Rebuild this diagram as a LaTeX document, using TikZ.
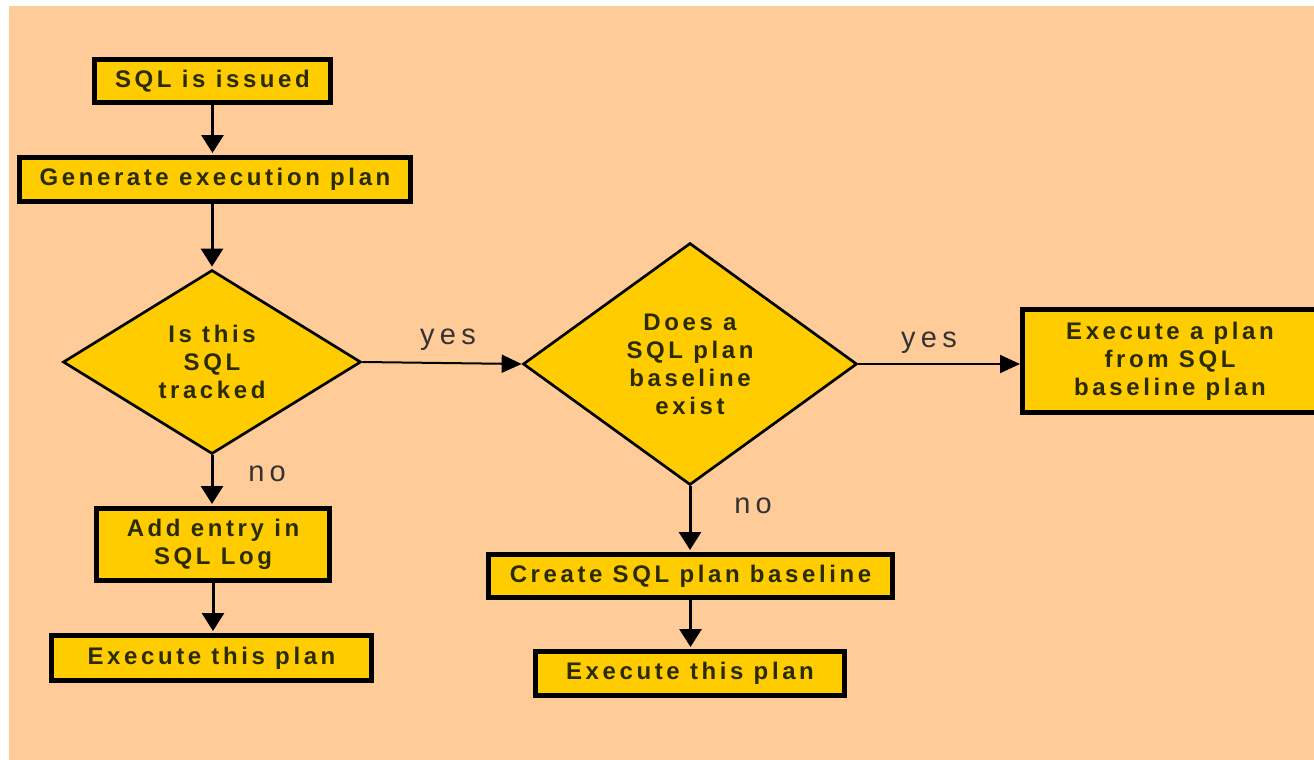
\documentclass[tikz,border=0pt]{standalone}
\usepackage{fontspec}
\newfontfamily\boxfont[LetterSpace=15]{Liberation Sans}
\newfontfamily\lblfont[LetterSpace=18]{Liberation Sans}
\usetikzlibrary{shapes.geometric,arrows.meta}
\definecolor{bg}{HTML}{FFCC99}
\definecolor{boxfill}{HTML}{FFCC00}
\definecolor{boxtext}{HTML}{2B2B00}
\definecolor{lblcol}{HTML}{333333}
\tikzset{
  box/.style={draw=black, line width=5pt, fill=boxfill, text=boxtext, inner sep=0pt,
    align=center, font=\boxfont\bfseries\fontsize{24}{28}\selectfont},
  dia/.style={diamond, draw=black, line width=2.7pt, fill=boxfill, text=boxtext, inner sep=0pt,
    aspect=1.5, align=center, font=\boxfont\bfseries\fontsize{24}{28}\selectfont},
  arr/.style={line width=3pt, shorten >=2pt, -{Triangle[length=18pt,width=22pt]}},
  yarr/.style={line width=2pt, -{Triangle[length=20pt,width=18pt]}},
  lbl/.style={text=lblcol, inner sep=0pt, font=\lblfont\fontsize{29}{32}\selectfont}
}
\begin{document}
\begin{tikzpicture}[x=1pt,y=-1pt]
\clip (0,0) rectangle (1314,760);
\fill[white] (0,0) rectangle (1314,760);
\fill[bg] (9,6) rectangle (1320,770);

\node[box, minimum width=236pt, minimum height=43pt] (s1) at (212.5,81) {SQL is issued};
\node[box, minimum width=391pt, minimum height=44pt] (s2) at (215,179.5) {Generate execution plan};
\node[dia, minimum width=298pt, minimum height=184pt] (d1) at (212,362) {Is this\\SQL\\tracked};
\node[box, minimum width=233pt, minimum height=72pt] (s3) at (213,544.5) {Add entry in\\SQL Log};
\node[box, minimum width=320pt, minimum height=45pt] (s4) at (211.5,658) {Execute this plan};
\node[dia, minimum width=334pt, minimum height=242pt] (d2) at (690,364) {Does a\\SQL plan\\baseline\\exist};
\node[box, minimum width=404pt, minimum height=43pt] (s5) at (690.5,576) {Create SQL plan baseline};
\node[box, minimum width=309pt, minimum height=44pt] (s6) at (690,673.5) {Execute this plan};
\node[box, minimum width=295pt, minimum height=103pt] (s7) at (1170,361) {Execute a plan\\from SQL\\baseline plan};

\draw[arr] (s1.south) -- (s1.south |- s2.north);
\draw[arr] (d1.north |- s2.south) -- (d1.north);
\draw[arr] (d1.south) -- (d1.south |- s3.north);
\draw[arr] (s3.south) -- (s3.south |- s4.north);
\draw[yarr] (d1.east) -- (d2.west);
\draw[arr] (d2.south) -- (d2.south |- s5.north);
\draw[arr] (s5.south) -- (s5.south |- s6.north);
\draw[yarr] (d2.east) -- (d2.east -| s7.west);

\node[lbl] (ly1) at (448,339.5) {yes};
\node[lbl] (ln1) at (267,474) {no};
\node[lbl] (ly2) at (929,343) {yes};
\node[lbl] (ln2) at (753,506) {no};
\end{tikzpicture}
\end{document}
